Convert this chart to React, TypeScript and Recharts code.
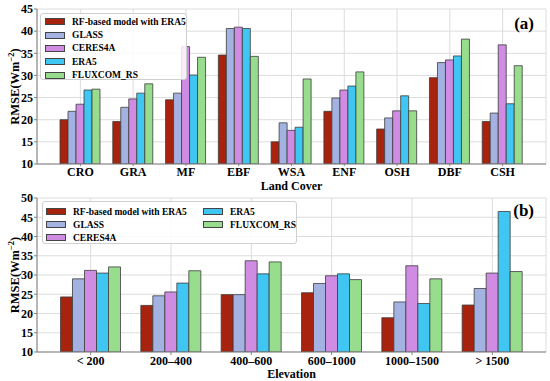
import { Bar, BarChart, CartesianGrid, Legend, XAxis, YAxis } from 'recharts'

document.body.style.margin = '0'

// (a) land cover
const landCovers = ['CRO', 'GRA', 'MF', 'EBF', 'WSA', 'ENF', 'OSH', 'DBF', 'CSH']
const rfLand = [20.0, 19.6, 24.5, 34.6, 15.0, 21.9, 17.9, 29.5, 19.6]
const glassLand = [21.9, 22.8, 26.0, 40.6, 19.3, 24.9, 20.4, 32.9, 21.5]
const ceresLand = [23.5, 24.7, 36.5, 40.9, 17.6, 26.7, 22.0, 33.5, 36.9]
const era5Land = [26.7, 26.0, 30.1, 40.6, 18.3, 27.6, 25.4, 34.4, 23.6]
const fluxLand = [26.9, 28.1, 34.1, 34.3, 29.2, 30.8, 22.0, 38.2, 32.2]
const landTicks = [10, 15, 20, 25, 30, 35, 40, 45]

// (b) elevation
const elevations = ['< 200', '200\u2013400', '400\u2013600', '600\u20131000', '1000\u20131500', '> 1500']
const rfElev = [24.3, 22.1, 24.9, 25.4, 18.9, 22.2]
const glassElev = [29.0, 24.6, 24.9, 27.8, 23.0, 26.5]
const ceresElev = [31.2, 25.6, 33.7, 29.8, 32.4, 30.5]
const era5Elev = [30.5, 27.9, 30.3, 30.3, 22.6, 46.5]
const fluxElev = [32.1, 31.1, 33.4, 28.8, 29.0, 30.9]
const elevTicks = [10, 15, 20, 25, 30, 35, 40, 45, 50]

const seriesNames = ['RF-based model with ERA5', 'GLASS', 'CERES4A', 'ERA5', 'FLUXCOM_RS']
const seriesKeys = ['rf', 'glass', 'ceres', 'era5', 'flux']
const seriesColors = ['#a8230e', '#a4b2e2', '#cf8ce2', '#3fc6f2', '#98dc8e']

const FONT = '"Liberation Serif", "Times New Roman", serif'
const FRAME = '#808080'

function buildRows(cats: string[], cols: number[][]) {
  return cats.map((c, i) => {
    const row: Record<string, string | number> = { cat: c }
    seriesKeys.forEach((k, j) => {
      row[k] = cols[j][i]
    })
    return row
  })
}

const landData = buildRows(landCovers, [rfLand, glassLand, ceresLand, era5Land, fluxLand])
const elevData = buildRows(elevations, [rfElev, glassElev, ceresElev, era5Elev, fluxElev])

function YLabel({ viewBox }: any) {
  const cy = viewBox.y + viewBox.height / 2
  const x = 19
  return (
    <text
      x={x}
      y={cy}
      transform={`rotate(-90, ${x}, ${cy})`}
      textAnchor="middle"
      fontFamily={FONT}
      fontWeight="bold"
      fontSize={12.5}
      fill="#000"
    >
      RMSE(Wm
      <tspan dy={-5} fontSize={8.5}>
        {'\u22122'}
      </tspan>
      <tspan dy={5}>)</tspan>
    </text>
  )
}

function LegendBox({ columns }: { columns: number }) {
  const rows = columns === 1 ? 5 : 3
  return (
    <div
      style={{
        border: '1px solid #cfcfcf',
        borderRadius: 3,
        background: 'rgba(255,255,255,0.85)',
        padding: columns === 1 ? '1px 0 0 4px' : '3px 0 0 3px',
        display: 'grid',
        gridTemplateRows: `repeat(${rows}, ${columns === 1 ? 13.4 : 13}px)`,
        gridAutoFlow: 'column',
        gridAutoColumns: columns === 1 ? 'auto' : '157px',
        boxSizing: 'border-box',
        width: '100%',
        height: '100%',
        fontFamily: FONT,
        fontWeight: 'bold',
        fontSize: 9.5,
        color: '#000',
      }}
    >
      {seriesNames.map((n, i) => (
        <div key={n} style={{ display: 'flex', alignItems: 'center', whiteSpace: 'nowrap' }}>
          <span
            style={{
              display: 'inline-block',
              width: 20,
              height: 7,
              background: seriesColors[i],
              border: '1px solid #444',
              boxSizing: 'border-box',
              marginRight: 7,
            }}
          />
          {n}
        </div>
      ))}
    </div>
  )
}

interface PanelProps {
  data: Record<string, string | number>[]
  ticks: number[]
  height: number
  top: number
  plotH: number
  xPad: number
  barSize: number
  xLabel: string
  labelOffset: number
  tickSize: number
  tag: string
  legendCols: number
  legendBox: { left: number; top: number; width: number; height: number }
  tagTop: number
}

function Panel(p: PanelProps) {
  const tickStyle = { fontFamily: FONT, fontWeight: 'bold', fontSize: 12, fill: '#000' }
  return (
    <div style={{ position: 'relative', width: 550, height: p.height }}>
      <BarChart
        width={550}
        height={p.height}
        data={p.data}
        margin={{ top: p.top, right: 4, left: 0, bottom: 0 }}
        barGap={0}
        barSize={p.barSize}
      >
        <CartesianGrid stroke="#dcdcdc" strokeWidth={1} />
        <XAxis
          dataKey="cat"
          height={p.height - p.top - p.plotH}
          padding={{ left: p.xPad, right: p.xPad }}
          tick={tickStyle}
          tickSize={p.tickSize}
          tickMargin={1}
          stroke={FRAME}
          interval={0}
          label={{
            value: p.xLabel,
            position: 'insideBottom',
            offset: p.labelOffset,
            style: { fontFamily: FONT, fontWeight: 'bold', fontSize: 12, fill: '#000' },
          }}
        />
        <XAxis xAxisId="top" dataKey="cat" orientation="top" height={0} tick={false} tickLine={false} stroke={FRAME} />
        <YAxis
          domain={[p.ticks[0], p.ticks[p.ticks.length - 1]]}
          ticks={p.ticks}
          interval={0}
          width={37}
          tick={tickStyle}
          tickSize={3}
          tickMargin={1}
          stroke={FRAME}
          allowDataOverflow
          label={{ content: <YLabel /> }}
        />
        <YAxis yAxisId="right" orientation="right" width={0} tick={false} tickLine={false} stroke={FRAME} />
        <Legend
          layout="vertical"
          align="center"
          verticalAlign="middle"
          wrapperStyle={{
            position: 'absolute',
            left: p.legendBox.left,
            top: p.legendBox.top,
            width: p.legendBox.width,
            height: p.legendBox.height,
          }}
          content={() => <LegendBox columns={p.legendCols} />}
        />
        {seriesKeys.map((k, i) => (
          <Bar
            key={k}
            dataKey={k}
            name={seriesNames[i]}
            fill={seriesColors[i]}
            stroke="#3c3c3c"
            strokeWidth={0.8}
            isAnimationActive={false}
          />
        ))}
      </BarChart>
      <div
        style={{
          position: 'absolute',
          right: 16,
          top: p.tagTop,
          fontFamily: FONT,
          fontWeight: 'bold',
          fontSize: 17,
        }}
      >
        {p.tag}
      </div>
    </div>
  )
}

export default function App() {
  return (
    <div style={{ width: 550, height: 381, background: '#fff' }}>
      <Panel
        data={landData}
        ticks={landTicks}
        height={192}
        top={9}
        plotH={155}
        xPad={17}
        barSize={8}
        xLabel="Land Cover"
        labelOffset={2.5}
        tickSize={2}
        tag="(a)"
        legendCols={1}
        legendBox={{ left: 40, top: 13, width: 147, height: 67 }}
        tagTop={14}
      />
      <Panel
        data={elevData}
        ticks={elevTicks}
        height={189}
        top={6}
        plotH={154}
        xPad={13.5}
        barSize={12}
        xLabel="Elevation"
        labelOffset={3}
        tickSize={3}
        tag="(b)"
        legendCols={2}
        legendBox={{ left: 42, top: 9, width: 255, height: 43 }}
        tagTop={9}
      />
    </div>
  )
}
